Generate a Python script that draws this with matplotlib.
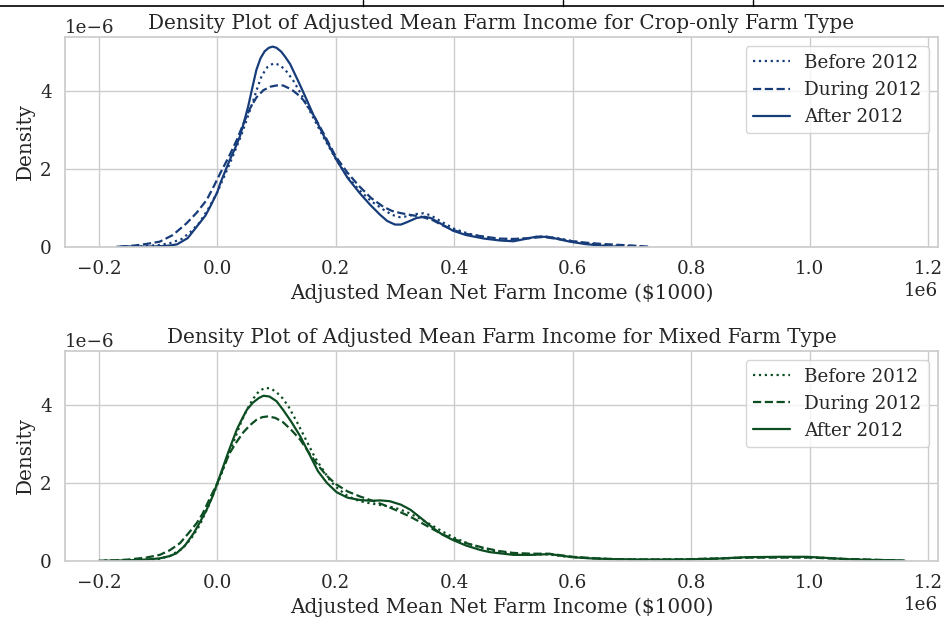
import matplotlib
matplotlib.use("Agg")
import matplotlib.pyplot as plt
from matplotlib.lines import Line2D
import seaborn as sns

sns.set_theme(style="whitegrid")
plt.rcParams['font.family'] = ['DejaVu Serif']

# ---- data (x in $1e6 units, density in 1e-6 units) ----
labels = ["Before 2012", "During 2012", "After 2012"]
styles = [":", "--", "-"]

crop_before_x = [-0.17, -0.13, -0.10, -0.08, -0.06, -0.045, -0.03, -0.015, 0.0, 0.01, 0.02, 0.03, 0.04,
                 0.05, 0.06, 0.068, 0.075, 0.085, 0.095, 0.105, 0.115, 0.128, 0.14, 0.15, 0.16, 0.18,
                 0.20, 0.22, 0.24, 0.26, 0.28, 0.295, 0.308, 0.32, 0.335, 0.348, 0.36, 0.38, 0.40,
                 0.425, 0.45, 0.475, 0.50, 0.525, 0.55, 0.575, 0.60, 0.625, 0.65, 0.70, 0.72]
crop_before_y = [0.0, 0.01, 0.04, 0.09, 0.2, 0.38, 0.62, 0.98, 1.4, 1.75, 2.1, 2.47, 2.85,
                 3.28, 3.73, 4.1, 4.4, 4.63, 4.72, 4.68, 4.55, 4.28, 3.97, 3.68, 3.38, 2.8,
                 2.26, 1.8, 1.45, 1.17, 0.96, 0.82, 0.76, 0.78, 0.84, 0.86, 0.81, 0.63, 0.46,
                 0.33, 0.25, 0.19, 0.17, 0.22, 0.27, 0.22, 0.14, 0.08, 0.04, 0.01, 0.0]

crop_during_x = [-0.165, -0.14, -0.12, -0.097, -0.075, -0.052, -0.035, -0.018, -0.005, 0.005, 0.02,
                 0.033, 0.045, 0.055, 0.066, 0.078, 0.09, 0.10, 0.111, 0.125, 0.135, 0.145, 0.162,
                 0.18, 0.20, 0.22, 0.24, 0.26, 0.28, 0.295, 0.308, 0.325, 0.345, 0.364, 0.38, 0.398,
                 0.42, 0.45, 0.475, 0.50, 0.525, 0.55, 0.575, 0.60, 0.625, 0.65, 0.675, 0.70, 0.73]
crop_during_y = [0.0, 0.03, 0.07, 0.13, 0.3, 0.6, 0.87, 1.2, 1.58, 1.89, 2.33,
                 2.75, 3.2, 3.55, 3.84, 4.03, 4.12, 4.15, 4.15, 4.05, 3.93, 3.78, 3.40,
                 2.9, 2.32, 1.9, 1.55, 1.25, 1.03, 0.92, 0.87, 0.82, 0.77, 0.68, 0.55, 0.43,
                 0.33, 0.26, 0.21, 0.2, 0.22, 0.25, 0.2, 0.14, 0.1, 0.07, 0.05, 0.03, 0.0]

crop_after_x = [-0.165, -0.13, -0.10, -0.08, -0.068, -0.05, -0.035, -0.02, -0.012, 0.0, 0.005, 0.013,
                0.021, 0.03, 0.038, 0.045, 0.052, 0.059, 0.066, 0.073, 0.08, 0.087, 0.0935, 0.10,
                0.108, 0.115, 0.123, 0.137, 0.151, 0.162, 0.18, 0.2015, 0.22, 0.241, 0.258, 0.275,
                0.287, 0.30, 0.31, 0.32, 0.3365, 0.35, 0.36, 0.38, 0.398, 0.42, 0.45, 0.477, 0.50,
                0.52, 0.539, 0.56, 0.58, 0.595, 0.62, 0.64, 0.66, 0.68]
crop_after_y = [0.0, 0.0, 0.01, 0.03, 0.06, 0.22, 0.51, 0.80, 1.03, 1.40, 1.63, 1.93,
                2.23, 2.53, 2.83, 3.2, 3.6, 4.08, 4.55, 4.85, 5.03, 5.12, 5.15, 5.12,
                5.02, 4.88, 4.70, 4.25, 3.78, 3.40, 2.85, 2.23, 1.77, 1.37, 1.08, 0.82,
                0.66, 0.57, 0.57, 0.63, 0.74, 0.77, 0.74, 0.57, 0.41, 0.30, 0.21, 0.16, 0.14,
                0.20, 0.26, 0.25, 0.18, 0.13, 0.07, 0.04, 0.01, 0.0]

mixed_before_x = [-0.19, -0.14, -0.10, -0.08, -0.06, -0.045, -0.03, -0.015, 0.0, 0.01, 0.02, 0.03,
                  0.04, 0.05, 0.06, 0.07, 0.08, 0.09, 0.10, 0.11, 0.12, 0.135, 0.15, 0.165, 0.18,
                  0.19, 0.20, 0.22, 0.24, 0.26, 0.28, 0.30, 0.32, 0.34, 0.36, 0.38, 0.40, 0.425,
                  0.45, 0.475, 0.50, 0.53, 0.56, 0.58, 0.60, 0.65, 0.70, 0.80, 0.85, 0.90, 0.95,
                  1.0, 1.03, 1.06, 1.10, 1.15]
mixed_before_y = [0.0, 0.01, 0.04, 0.12, 0.3, 0.55, 0.9, 1.4, 1.95, 2.35, 2.75, 3.15,
                  3.55, 3.88, 4.15, 4.35, 4.44, 4.43, 4.33, 4.18, 3.97, 3.55, 3.1, 2.65, 2.3,
                  2.07, 1.9, 1.66, 1.53, 1.47, 1.42, 1.36, 1.25, 1.1, 0.93, 0.75, 0.59, 0.43,
                  0.31, 0.22, 0.17, 0.16, 0.16, 0.12, 0.09, 0.05, 0.03, 0.04, 0.06, 0.09, 0.09,
                  0.09, 0.07, 0.04, 0.02, 0.0]

mixed_during_x = [-0.20, -0.17, -0.15, -0.12, -0.097, -0.08, -0.063, -0.05, -0.035, -0.025, -0.012,
                  0.0, 0.01, 0.021, 0.033, 0.044, 0.055, 0.066, 0.076, 0.086, 0.098, 0.111, 0.125,
                  0.14, 0.155, 0.17, 0.185, 0.20, 0.22, 0.241, 0.26, 0.28, 0.30, 0.326, 0.345,
                  0.365, 0.38, 0.40, 0.425, 0.45, 0.475, 0.50, 0.53, 0.56, 0.58, 0.60, 0.65, 0.70,
                  0.75, 0.80, 0.85, 0.90, 0.95, 1.0, 1.05, 1.10, 1.16]
mixed_during_y = [0.0, 0.01, 0.03, 0.08, 0.15, 0.27, 0.45, 0.68, 0.96, 1.2, 1.62,
                  1.99, 2.38, 2.77, 3.06, 3.30, 3.48, 3.62, 3.69, 3.71, 3.67, 3.56, 3.36,
                  3.11, 2.77, 2.45, 2.18, 1.97, 1.78, 1.65, 1.55, 1.44, 1.31, 1.13, 0.97,
                  0.8, 0.68, 0.55, 0.43, 0.33, 0.25, 0.2, 0.18, 0.18, 0.14, 0.1, 0.05, 0.03,
                  0.03, 0.04, 0.06, 0.08, 0.08, 0.08, 0.05, 0.03, 0.0]

mixed_after_x = [-0.19, -0.15, -0.12, -0.097, -0.08, -0.069, -0.055, -0.04, -0.03, -0.018, -0.008,
                 0.0, 0.008, 0.016, 0.025, 0.033, 0.042, 0.050, 0.06, 0.07, 0.078, 0.088, 0.10,
                 0.111, 0.125, 0.14, 0.156, 0.17, 0.185, 0.2015, 0.22, 0.241, 0.26, 0.275, 0.291,
                 0.31, 0.326, 0.345, 0.365, 0.38, 0.398, 0.42, 0.443, 0.46, 0.477, 0.50, 0.53,
                 0.5615, 0.58, 0.60, 0.63, 0.668, 0.72, 0.78, 0.84, 0.893, 0.95, 0.995, 1.03,
                 1.062, 1.10, 1.147, 1.16]
mixed_after_y = [0.0, 0.01, 0.03, 0.06, 0.12, 0.19, 0.38, 0.70, 0.97, 1.31, 1.65,
                 1.99, 2.33, 2.68, 3.05, 3.37, 3.65, 3.88, 4.06, 4.18, 4.24, 4.22, 4.1,
                 3.88, 3.57, 3.2, 2.72, 2.3, 2.0, 1.76, 1.62, 1.56, 1.54, 1.55, 1.53,
                 1.44, 1.31, 1.08, 0.83, 0.67, 0.53, 0.39, 0.28, 0.22, 0.19, 0.15, 0.15,
                 0.17, 0.13, 0.09, 0.06, 0.04, 0.03, 0.03, 0.05, 0.09, 0.10, 0.10, 0.07,
                 0.04, 0.02, 0.01, 0.0]

titles = ["Density Plot of Adjusted Mean Farm Income for Crop-only Farm Type",
          "Density Plot of Adjusted Mean Farm Income for Mixed Farm Type"]
xlabel = "Adjusted Mean Net Farm Income ($1000)"
ylabel = "Density"
colors = ["#173c7a", "#0c4d22"]

series = [
    [(crop_before_x, crop_before_y), (crop_during_x, crop_during_y), (crop_after_x, crop_after_y)],
    [(mixed_before_x, mixed_before_y), (mixed_during_x, mixed_during_y), (mixed_after_x, mixed_after_y)],
]

W, H = 945, 619
fig = plt.figure(figsize=(W / 100, H / 100), dpi=100)
boxes = [(65, 37.3, 938, 246.7), (65, 351, 938, 560.7)]

for i, (l, t, r, b) in enumerate(boxes):
    ax = fig.add_axes([l / W, 1 - b / H, (r - l) / W, (b - t) / H])
    for (xs, ys), lab, ls in zip(series[i], labels, styles):
        ax.plot([v * 1e6 for v in xs], [v * 1e-6 for v in ys], linestyle=ls,
                color=colors[i], linewidth=1.6, label=lab)
    ax.set_xlim(-0.257e6, 1.2165e6)
    ax.set_ylim(0, 5.39e-6)
    ax.set_yticks([0, 2e-6, 4e-6])
    ax.set_title(titles[i], fontsize=14.4)
    ax.set_xlabel(xlabel, fontsize=14.4)
    ax.set_ylabel(ylabel, fontsize=14.4)
    ax.tick_params(labelsize=13.2)
    ax.xaxis.get_offset_text().set_fontsize(13.2)
    ax.yaxis.get_offset_text().set_fontsize(13.2)
    ax.legend(loc="upper right", fontsize=13.2)

# border artifact at the top of the picture
fig.add_artist(Line2D([0, 1], [1 - 6 / H, 1 - 6 / H], color="black", linewidth=1.2))
for xv in [363, 563, 753]:
    fig.add_artist(Line2D([xv / W, xv / W], [1 - 6 / H, 1], color="black", linewidth=1.0))

fig.savefig("out.png", dpi=100)
